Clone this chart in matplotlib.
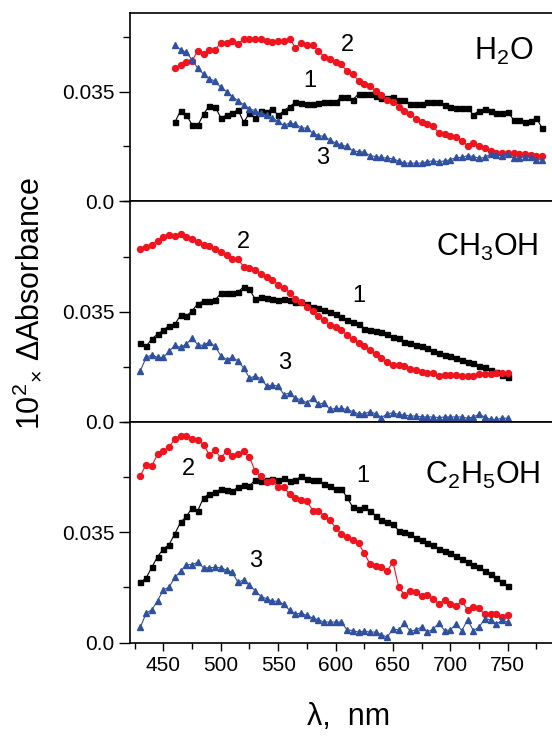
import numpy as np
import matplotlib
matplotlib.use("Agg")
import matplotlib.pyplot as plt
from matplotlib.ticker import MultipleLocator

plt.rcParams['font.family'] = ['Liberation Sans', 'DejaVu Sans']
plt.rcParams['mathtext.fontset'] = 'custom'
plt.rcParams['mathtext.rm'] = 'Liberation Sans'
plt.rcParams['mathtext.default'] = 'regular'

# wavelengths, nm
lam_h2o = np.arange(460, 781, 5)
lam = np.arange(430, 751, 5)

# H2O
h2o_1 = [0.0252, 0.0289, 0.0276, 0.0244, 0.0242, 0.0278, 0.0305, 0.0302, 0.0267, 0.0274,
         0.0281, 0.0292, 0.0252, 0.0281, 0.0267, 0.0289, 0.0286, 0.0295, 0.0274, 0.0289,
         0.0302, 0.0316, 0.0313, 0.0310, 0.0310, 0.0313, 0.0318, 0.0318, 0.0316, 0.0334,
         0.0331, 0.0324, 0.0342, 0.0342, 0.0342, 0.0337, 0.0329, 0.0329, 0.0331, 0.0324,
         0.0324, 0.0310, 0.0310, 0.0310, 0.0316, 0.0316, 0.0318, 0.0308, 0.0302, 0.0297,
         0.0297, 0.0297, 0.0276, 0.0289, 0.0295, 0.0289, 0.0281, 0.0281, 0.0286, 0.0260,
         0.0260, 0.0252, 0.0257, 0.0265, 0.0233]
h2o_2 = [0.0424, 0.0433, 0.0443, 0.0448, 0.0480, 0.0469, 0.0483, 0.0483, 0.0504, 0.0504,
         0.0511, 0.0501, 0.0518, 0.0518, 0.0518, 0.0518, 0.0511, 0.0507, 0.0511, 0.0511,
         0.0518, 0.0490, 0.0504, 0.0498, 0.0498, 0.0479, 0.0461, 0.0454, 0.0443, 0.0437,
         0.0414, 0.0405, 0.0384, 0.0373, 0.0366, 0.0352, 0.0339, 0.0324, 0.0318, 0.0302,
         0.0289, 0.0278, 0.0263, 0.0252, 0.0246, 0.0239, 0.0218, 0.0214, 0.0210, 0.0204,
         0.0193, 0.0178, 0.0186, 0.0175, 0.0170, 0.0161, 0.0154, 0.0154, 0.0154, 0.0154,
         0.0151, 0.0151, 0.0148, 0.0146, 0.0146]
h2o_3 = [0.0498, 0.0483, 0.0475, 0.0451, 0.0424, 0.0405, 0.0390, 0.0384, 0.0363, 0.0350,
         0.0334, 0.0320, 0.0308, 0.0295, 0.0289, 0.0281, 0.0276, 0.0265, 0.0255, 0.0242,
         0.0250, 0.0246, 0.0235, 0.0233, 0.0218, 0.0210, 0.0207, 0.0196, 0.0186, 0.0180,
         0.0175, 0.0161, 0.0159, 0.0157, 0.0146, 0.0143, 0.0140, 0.0138, 0.0136, 0.0129,
         0.0122, 0.0122, 0.0122, 0.0122, 0.0127, 0.0129, 0.0127, 0.0129, 0.0133, 0.0140,
         0.0140, 0.0146, 0.0143, 0.0138, 0.0140, 0.0151, 0.0148, 0.0146, 0.0151, 0.0138,
         0.0138, 0.0143, 0.0140, 0.0133, 0.0133]

# CH3OH
meoh_1 = [0.0250, 0.0240, 0.0264, 0.0279, 0.0292, 0.0306, 0.0310, 0.0339, 0.0337, 0.0352,
          0.0376, 0.0384, 0.0384, 0.0387, 0.0408, 0.0411, 0.0411, 0.0413, 0.0429, 0.0421,
          0.0390, 0.0397, 0.0394, 0.0392, 0.0387, 0.0392, 0.0387, 0.0382, 0.0382, 0.0376,
          0.0366, 0.0361, 0.0355, 0.0348, 0.0342, 0.0334, 0.0324, 0.0316, 0.0310, 0.0295,
          0.0292, 0.0289, 0.0285, 0.0279, 0.0271, 0.0268, 0.0255, 0.0250, 0.0245, 0.0240,
          0.0234, 0.0226, 0.0219, 0.0213, 0.0211, 0.0203, 0.0198, 0.0192, 0.0187, 0.0177,
          0.0173, 0.0166, 0.0159, 0.0150, 0.0142]
meoh_2 = [0.0550, 0.0555, 0.0562, 0.0576, 0.0586, 0.0592, 0.0590, 0.0597, 0.0586, 0.0581,
          0.0571, 0.0562, 0.0560, 0.0550, 0.0539, 0.0529, 0.0516, 0.0518, 0.0492, 0.0489,
          0.0481, 0.0471, 0.0460, 0.0450, 0.0436, 0.0426, 0.0411, 0.0392, 0.0382, 0.0366,
          0.0352, 0.0337, 0.0324, 0.0308, 0.0300, 0.0292, 0.0276, 0.0264, 0.0250, 0.0240,
          0.0229, 0.0215, 0.0203, 0.0190, 0.0180, 0.0180, 0.0177, 0.0169, 0.0166, 0.0159,
          0.0156, 0.0156, 0.0145, 0.0150, 0.0148, 0.0148, 0.0145, 0.0145, 0.0145, 0.0152,
          0.0152, 0.0152, 0.0156, 0.0156, 0.0156]
meoh_3 = [0.0163, 0.0205, 0.0213, 0.0205, 0.0205, 0.0224, 0.0243, 0.0237, 0.0247, 0.0266,
          0.0245, 0.0243, 0.0255, 0.0240, 0.0211, 0.0198, 0.0205, 0.0194, 0.0171, 0.0140,
          0.0145, 0.0138, 0.0114, 0.0117, 0.0114, 0.0087, 0.0092, 0.0075, 0.0071, 0.0061,
          0.0075, 0.0056, 0.0061, 0.0040, 0.0043, 0.0043, 0.0040, 0.0033, 0.0026, 0.0026,
          0.0033, 0.0026, 0.0014, 0.0026, 0.0029, 0.0024, 0.0022, 0.0019, 0.0019, 0.0016,
          0.0016, 0.0016, 0.0014, 0.0016, 0.0016, 0.0016, 0.0016, 0.0012, 0.0016, 0.0024,
          0.0016, 0.0008, 0.0008, 0.0012, 0.0012]

# C2H5OH
etoh_1 = [0.0191, 0.0205, 0.0239, 0.0273, 0.0297, 0.0311, 0.0345, 0.0382, 0.0400, 0.0427,
          0.0419, 0.0459, 0.0472, 0.0477, 0.0487, 0.0484, 0.0480, 0.0493, 0.0501, 0.0498,
          0.0516, 0.0512, 0.0516, 0.0519, 0.0516, 0.0522, 0.0512, 0.0516, 0.0527, 0.0519,
          0.0516, 0.0516, 0.0503, 0.0498, 0.0487, 0.0487, 0.0461, 0.0429, 0.0424, 0.0431,
          0.0417, 0.0403, 0.0389, 0.0382, 0.0376, 0.0355, 0.0350, 0.0343, 0.0332, 0.0324,
          0.0315, 0.0308, 0.0297, 0.0290, 0.0283, 0.0276, 0.0265, 0.0255, 0.0247, 0.0239,
          0.0228, 0.0216, 0.0205, 0.0191, 0.0178]
etoh_2 = [0.0530, 0.0565, 0.0561, 0.0598, 0.0609, 0.0620, 0.0646, 0.0657, 0.0657, 0.0646,
          0.0643, 0.0628, 0.0596, 0.0611, 0.0586, 0.0607, 0.0593, 0.0598, 0.0607, 0.0588,
          0.0544, 0.0527, 0.0509, 0.0512, 0.0493, 0.0493, 0.0470, 0.0459, 0.0453, 0.0450,
          0.0419, 0.0417, 0.0403, 0.0389, 0.0364, 0.0345, 0.0336, 0.0326, 0.0315, 0.0283,
          0.0250, 0.0244, 0.0241, 0.0228, 0.0255, 0.0176, 0.0152, 0.0163, 0.0160, 0.0149,
          0.0152, 0.0139, 0.0123, 0.0135, 0.0123, 0.0117, 0.0131, 0.0104, 0.0114, 0.0110,
          0.0089, 0.0089, 0.0089, 0.0080, 0.0086]
etoh_3 = [0.0049, 0.0093, 0.0104, 0.0133, 0.0167, 0.0176, 0.0207, 0.0226, 0.0247, 0.0247,
          0.0255, 0.0237, 0.0237, 0.0239, 0.0237, 0.0230, 0.0223, 0.0191, 0.0199, 0.0181,
          0.0165, 0.0146, 0.0139, 0.0131, 0.0131, 0.0121, 0.0102, 0.0091, 0.0093, 0.0086,
          0.0078, 0.0072, 0.0065, 0.0065, 0.0065, 0.0065, 0.0040, 0.0038, 0.0033, 0.0036,
          0.0033, 0.0033, 0.0025, 0.0017, 0.0043, 0.0040, 0.0061, 0.0036, 0.0040, 0.0049,
          0.0033, 0.0043, 0.0061, 0.0038, 0.0040, 0.0059, 0.0038, 0.0072, 0.0038, 0.0049,
          0.0075, 0.0072, 0.0059, 0.0070, 0.0065]

panels = [
    (lam_h2o, h2o_1, h2o_2, h2o_3, 0.060, "H$_2$O", (746, 0.0477),
     [(578, 0.0382), (610, 0.0498), (589, 0.0138)]),
    (lam, meoh_1, meoh_2, meoh_3, 0.070, "CH$_3$OH", (732, 0.0555),
     [(620, 0.0400), (520, 0.0571), (556, 0.0187)]),
    (lam, etoh_1, etoh_2, etoh_3, 0.070, "C$_2$H$_5$OH", (728, 0.0530),
     [(624, 0.0530), (472, 0.0551), (530, 0.0260)]),
]

fig = plt.figure(figsize=(5.52, 7.38), dpi=100)
bounds = [(0.7270, 0.9824), (0.4282, 0.7270), (0.1294, 0.4282)]
left, width = 0.2348, 0.78
x0 = 420.6
x1 = x0 + width * 552 / 1.148

for i, (x, s1, s2, s3, ytop, name, npos, lpos) in enumerate(panels):
    b, t = bounds[i]
    ax = fig.add_axes([left, b, width, t - b])
    ax.plot(x, s1, color='black', marker='s', ms=3.6, lw=0.8)
    ax.plot(x, s2, color='#f0141e', marker='o', ms=4.3, lw=0.8)
    ax.plot(x, s3, color='#3050a0', marker='^', ms=4.2, lw=0.8)
    ax.set_xlim(x0, x1)
    ax.set_ylim(0, ytop)
    ax.set_yticks([0, 0.035])
    ax.set_yticklabels(["0.0", "0.035"])
    ax.yaxis.set_minor_locator(MultipleLocator(0.0175))
    ax.tick_params(axis='y', which='major', direction='out', length=8, width=1,
                   labelsize=15, pad=3)
    ax.tick_params(axis='y', which='minor', direction='out', length=5, width=1)
    for sp in ax.spines.values():
        sp.set_linewidth(1.2)
    ax.text(npos[0], npos[1], name, fontsize=22, ha='center', va='center')
    for num, (lx, ly) in zip(["1", "2", "3"], lpos):
        ax.text(lx, ly, num, fontsize=17, ha='center', va='center')
    if i < 2:
        ax.tick_params(axis='x', which='both', bottom=False, labelbottom=False)
    else:
        ax.set_xticks(np.arange(450, 751, 50))
        ax.xaxis.set_minor_locator(MultipleLocator(25))
        ax.tick_params(axis='x', which='major', direction='out', length=6, width=1,
                       labelsize=15, pad=4)
        ax.tick_params(axis='x', which='minor', direction='out', length=4, width=1)

fig.text(0.051, 0.589, "10$^2$$_{\\times}$ ΔAbsorbance", rotation=90,
         ha='center', va='center', fontsize=22)
fig.text(349 / 552, 1 - 717 / 738, "λ,  nm", ha='center', va='center', fontsize=22)

fig.savefig("out.png", dpi=100)
